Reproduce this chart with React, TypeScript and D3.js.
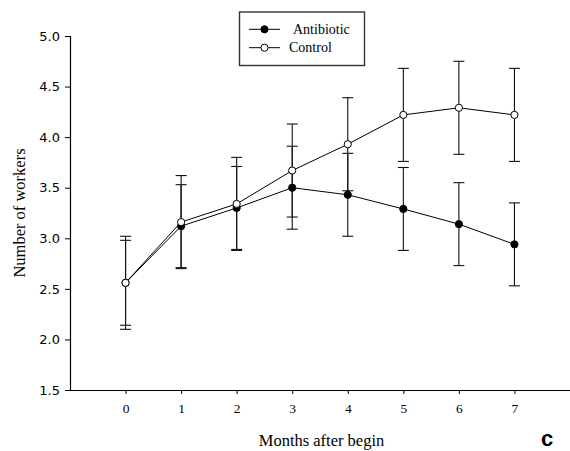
import React, { useEffect, useRef } from "react";
import * as d3 from "d3";

// values
const months = [0, 1, 2, 3, 4, 5, 6, 7];
const antibioticMean = [2.56, 3.12, 3.3, 3.5, 3.43, 3.29, 3.14, 2.94];
const antibioticErr = [0.42, 0.41, 0.41, 0.41, 0.41, 0.41, 0.41, 0.41];
const controlMean = [2.56, 3.16, 3.34, 3.67, 3.93, 4.22, 4.29, 4.22];
const controlErr = [0.46, 0.46, 0.46, 0.46, 0.46, 0.46, 0.46, 0.46];
const yTicks = [1.5, 2.0, 2.5, 3.0, 3.5, 4.0, 4.5, 5.0];
const seriesNames = ["Antibiotic", "Control"];

export default function App() {
  const svgRef = useRef(null);

  useEffect(() => {
    drawChart();
  }, []);

  function drawChart() {
    const width = 570;
    const height = 451;
    const left = 70,
      right = 570,
      top = 36,
      bottom = 390;

    const svg = d3.select(svgRef.current);
    svg.selectAll("*").remove();

    const x = d3.scaleLinear().domain([-1, 8]).range([left, right]);
    const y = d3.scaleLinear().domain([1.5, 5.0]).range([bottom, top]);

    // y axis
    const yAxis = svg
      .append("g")
      .attr("transform", `translate(${left},0)`)
      .call(
        d3
          .axisLeft(y)
          .tickValues(yTicks)
          .tickFormat(d3.format(".1f"))
          .tickSize(5)
          .tickPadding(5)
      );
    yAxis.select(".domain").attr("stroke", "#000").attr("stroke-width", 1.2);
    yAxis.selectAll("line").attr("stroke", "#000");
    yAxis
      .selectAll("text")
      .attr("font-family", "DejaVu Sans, sans-serif")
      .attr("font-size", 13)
      .attr("fill", "#000");

    // x axis
    const xAxis = svg
      .append("g")
      .attr("transform", `translate(0,${bottom})`)
      .call(d3.axisBottom(x).tickValues(months).tickSize(4).tickPadding(9).tickSizeOuter(0));
    xAxis.select(".domain").attr("stroke", "#000").attr("stroke-width", 1.2);
    xAxis.selectAll("line").attr("stroke", "#000");
    xAxis
      .selectAll("text")
      .attr("font-family", "Liberation Serif, serif")
      .attr("font-size", 13.5)
      .attr("fill", "#000");

    const series = [
      { name: seriesNames[0], mean: antibioticMean, err: antibioticErr, fill: "#000" },
      { name: seriesNames[1], mean: controlMean, err: controlErr, fill: "#fff" },
    ];

    const line = d3
      .line()
      .x((d) => x(d[0]))
      .y((d) => y(d[1]));

    // error bars
    series.forEach((s) => {
      const g = svg.append("g").attr("stroke", "#111").attr("stroke-width", 1.1);
      months.forEach((m, i) => {
        const hi = y(s.mean[i] + s.err[i]);
        const lo = y(s.mean[i] - s.err[i]);
        g.append("line").attr("x1", x(m)).attr("x2", x(m)).attr("y1", hi).attr("y2", lo);
        g.append("line").attr("x1", x(m) - 5.5).attr("x2", x(m) + 5.5).attr("y1", hi).attr("y2", hi);
        g.append("line").attr("x1", x(m) - 5.5).attr("x2", x(m) + 5.5).attr("y1", lo).attr("y2", lo);
      });
    });

    // lines and markers
    series.forEach((s) => {
      svg
        .append("path")
        .datum(months.map((m, i) => [m, s.mean[i]]))
        .attr("d", line)
        .attr("fill", "none")
        .attr("stroke", "#000")
        .attr("stroke-width", 1);
      svg
        .append("g")
        .selectAll("circle")
        .data(months)
        .join("circle")
        .attr("cx", (m) => x(m))
        .attr("cy", (m, i) => y(s.mean[i]))
        .attr("r", 3.6)
        .attr("fill", s.fill)
        .attr("stroke", "#000")
        .attr("stroke-width", 1);
    });

    // legend
    const legend = svg.append("g");
    legend
      .append("rect")
      .attr("x", 239.5)
      .attr("y", 12)
      .attr("width", 125)
      .attr("height", 53.5)
      .attr("fill", "#fff")
      .attr("stroke", "#333")
      .attr("stroke-width", 1.4);
    const rows = [29.3, 47.7];
    const textX = [293, 289];
    series.forEach((s, i) => {
      legend
        .append("line")
        .attr("x1", 249)
        .attr("x2", 280)
        .attr("y1", rows[i])
        .attr("y2", rows[i])
        .attr("stroke", "#000");
      legend
        .append("circle")
        .attr("cx", 264.5)
        .attr("cy", rows[i])
        .attr("r", 3.6)
        .attr("fill", s.fill)
        .attr("stroke", "#000");
      legend
        .append("text")
        .attr("x", textX[i])
        .attr("y", rows[i] + 4.5)
        .attr("font-family", "Liberation Serif, serif")
        .attr("font-size", 14)
        .text(s.name);
    });

    // axis titles
    svg
      .append("text")
      .attr("transform", `translate(24.5,${(top + bottom) / 2}) rotate(-90)`)
      .attr("text-anchor", "middle")
      .attr("font-family", "Liberation Serif, serif")
      .attr("font-size", 16.5)
      .text("Number of workers");
    svg
      .append("text")
      .attr("x", 321.5)
      .attr("y", 446)
      .attr("text-anchor", "middle")
      .attr("font-family", "Liberation Serif, serif")
      .attr("font-size", 16.5)
      .text("Months after begin");

    // panel letter
    svg
      .append("text")
      .attr("x", 547)
      .attr("y", 446)
      .attr("text-anchor", "middle")
      .attr("font-family", "Liberation Sans, Arial, sans-serif")
      .attr("font-weight", "bold")
      .attr("font-size", 22)
      .text("c");

    svg.attr("width", width).attr("height", height);
  }

  return (
    <div>
      <svg
        ref={svgRef}
        width={570}
        height={451}
        style={{ position: "absolute", left: 0, top: 0, background: "#fff" }}
      ></svg>
    </div>
  );
}
